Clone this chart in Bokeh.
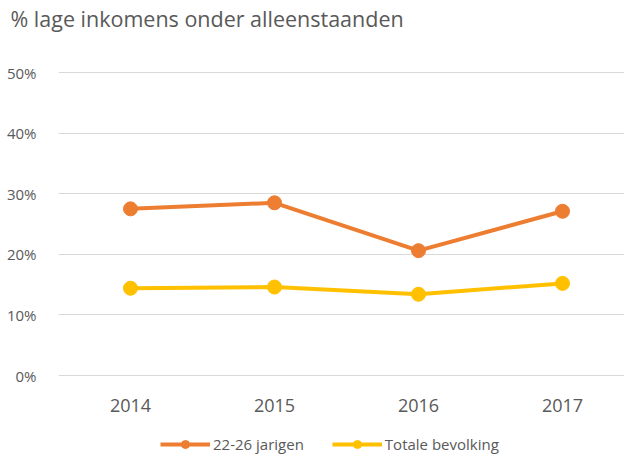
from bokeh.plotting import figure
from bokeh.models import Range1d, FixedTicker, Legend, LegendItem, ColumnDataSource, Title
from bokeh.layouts import column
from bokeh.embed import file_html
from bokeh.resources import INLINE

years = [2014, 2015, 2016, 2017]
year_labels = ["2014", "2015", "2016", "2017"]
jong = [0.275, 0.285, 0.206, 0.271]
totaal = [0.144, 0.146, 0.134, 0.152]
y_ticks = [0.0, 0.1, 0.2, 0.3, 0.4, 0.5]
y_tick_labels = ["0%", "10%", "20%", "30%", "40%", "50%"]
series_names = ["22-26 jarigen", "Totale bevolking"]
title_text = "% lage inkomens onder alleenstaanden"

ORANGE = "#ED7D31"
YELLOW = "#FFC000"
TXT = "#595959"
FONT = "Open Sans"

pad = 0.5 / 303
p = figure(frame_width=566, frame_height=305, output_backend="svg", toolbar_location=None,
           x_range=Range1d(2013.5, 2013.5 + 566 / 144), y_range=Range1d(-pad, 0.5 + pad),
           min_border_left=58, min_border_right=0, min_border_top=71, min_border_bottom=56,
           title=title_text)
p.outline_line_color = None
p.background_fill_color = "white"
p.border_fill_color = "white"

p.title.text_font = FONT
p.title.text_font_size = "21.5px"
p.title.text_font_style = "normal"
p.title.text_color = TXT
p.title.offset = -48
p.title.standoff = 0
p.add_layout(Title(text=" ", text_font_size="1px", standoff=36), "above")

p.xgrid.grid_line_color = None
p.ygrid.grid_line_color = "#D9D9D9"
p.ygrid.grid_line_width = 1

p.yaxis.ticker = FixedTicker(ticks=y_ticks)
p.yaxis.major_label_overrides = {t: l for t, l in zip(y_ticks, y_tick_labels)}
p.yaxis.axis_line_color = None
p.yaxis.major_tick_line_color = None
p.yaxis.minor_tick_line_color = None
p.yaxis.major_label_text_font = FONT
p.yaxis.major_label_text_font_size = "15px"
p.yaxis.major_label_text_color = TXT
p.yaxis.major_label_standoff = 16

p.xaxis.ticker = FixedTicker(ticks=years)
p.xaxis.major_label_overrides = {y: l for y, l in zip(years, year_labels)}
p.xaxis.axis_line_color = None
p.xaxis.major_tick_line_color = None
p.xaxis.minor_tick_line_color = None
p.xaxis.major_label_text_font = FONT
p.xaxis.major_label_text_font_size = "18px"
p.xaxis.major_label_text_color = TXT
p.xaxis.major_label_standoff = 16

src = ColumnDataSource(dict(x=years, a=jong, b=totaal))
p.line("x", "a", source=src, line_color=ORANGE, line_width=4)
p.scatter("x", "a", source=src, size=14, fill_color=ORANGE, line_color=ORANGE)
p.line("x", "b", source=src, line_color=YELLOW, line_width=4)
p.scatter("x", "b", source=src, size=14, fill_color=YELLOW, line_color=YELLOW)

# legend strip below the chart (its series lie outside this strip's ranges)
q = figure(width=624, height=22, output_backend="svg", toolbar_location=None,
           min_border=0, x_range=Range1d(0, 1), y_range=Range1d(0, 1))
q.axis.visible = False
q.grid.visible = False
q.outline_line_color = None
k1 = q.line("x", "a", source=src, line_color=ORANGE, line_width=4)
m1 = q.scatter("x", "a", source=src, size=12, fill_color=ORANGE, line_color=ORANGE)
k2 = q.line("x", "b", source=src, line_color=YELLOW, line_width=4)
m2 = q.scatter("x", "b", source=src, size=12, fill_color=YELLOW, line_color=YELLOW)
legend = Legend(items=[LegendItem(label=series_names[0], renderers=[k1, m1]),
                       LegendItem(label=series_names[1], renderers=[k2, m2])],
                orientation="horizontal", location=(102, 0),
                glyph_width=50, glyph_height=20, label_height=20, label_standoff=3, spacing=28,
                padding=0, margin=0, border_line_color=None, background_fill_alpha=0,
                label_text_font=FONT, label_text_font_size="15px", label_text_color=TXT)
q.add_layout(legend, "center")

open("out.html", "w").write(file_html(column(p, q, spacing=0), INLINE))
